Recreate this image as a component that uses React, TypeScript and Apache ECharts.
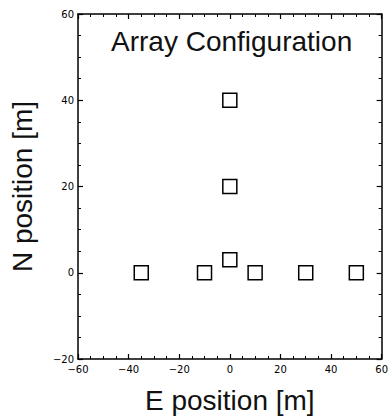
import React, { useEffect, useRef } from "react";
import * as echarts from "echarts";

const eastPositions = [0, 0, 0, -35, -10, 10, 30, 50];
const northPositions = [40, 20, 3, 0, 0, 0, 0, 0];
const titleText = "Array Configuration";
const xName = "E position [m]";
const yName = "N position [m]";

const fmt = (v: number) => String(v).replace("-", "\u2212");

export default function App() {
  const ref = useRef<HTMLDivElement>(null);
  useEffect(() => {
    const chart = echarts.init(ref.current!, undefined, { renderer: "svg" });
    const axisLine = { show: true, onZero: false, lineStyle: { color: "#000", width: 1.5 } };
    const axisTick = { show: true, inside: true, length: 5, lineStyle: { color: "#000", width: 1.2 } };
    const minorTick = { show: true, splitNumber: 4, length: 3, lineStyle: { color: "#000", width: 1 } };
    const label = { color: "#000", fontSize: 10, fontFamily: "DejaVu Sans", formatter: fmt };
    chart.setOption({
      animation: false,
      title: {
        text: titleText,
        left: 106,
        top: 22,
        textStyle: { fontSize: 28, fontWeight: "normal", color: "#111", fontFamily: "Liberation Sans" },
      },
      grid: { left: 75, top: 14, right: 3, bottom: 57 },
      xAxis: [
        {
          type: "value", min: -60, max: 60, interval: 20, position: "bottom",
          axisLine, axisTick, minorTick, splitLine: { show: false },
          axisLabel: { ...label, margin: 5 },
          name: xName, nameLocation: "middle", nameGap: 27,
          nameTextStyle: { fontSize: 28, color: "#111", fontFamily: "Liberation Sans" },
        },
        {
          type: "value", min: -60, max: 60, interval: 20, position: "top",
          axisLine, axisTick, minorTick, splitLine: { show: false }, axisLabel: { show: false },
        },
      ],
      yAxis: [
        {
          type: "value", min: -20, max: 60, interval: 20, position: "left",
          axisLine, axisTick, minorTick, splitLine: { show: false },
          axisLabel: { ...label, margin: 4 },
          name: yName, nameLocation: "middle", nameGap: 42, nameRotate: 90,
          nameTextStyle: { fontSize: 28, color: "#111", fontFamily: "Liberation Sans" },
        },
        {
          type: "value", min: -20, max: 60, interval: 20, position: "right",
          axisLine, axisTick, minorTick, splitLine: { show: false }, axisLabel: { show: false },
        },
      ],
      series: [
        {
          type: "scatter",
          data: eastPositions.map((e, i) => [e, northPositions[i]]),
          symbol: "rect",
          symbolSize: 14,
          itemStyle: { color: "#fff", borderColor: "#000", borderWidth: 1.5, opacity: 1 },
        },
      ],
    });
    return () => chart.dispose();
  }, []);
  return <div ref={ref} style={{ width: 391, height: 419, position: "absolute", left: 0, top: 0, background: "#fff" }} />;
}
